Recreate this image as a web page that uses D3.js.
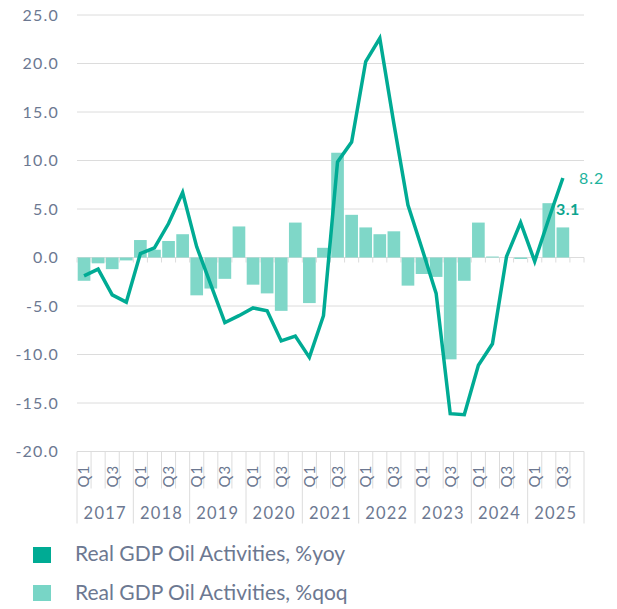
<!DOCTYPE html>
<html>
<head>
<meta charset="utf-8">
<script src="https://cdn.jsdelivr.net/npm/d3@7"></script>
<style>
  body { margin: 0; background: #fff; }
  text { font-family: Lato, "Open Sans", sans-serif; fill: #6c7891; }
  .grid line { stroke: #dcdcdc; stroke-width: 1; }
  .axis-label { font-size: 16px; letter-spacing: 1.2px; }
  .year-label { font-size: 16.5px; }
  .q-label { font-size: 15px; letter-spacing: 1px; }
  .legend-text { font-size: 21px; }
</style>
</head>
<body>
<div id="chart"></div>
<script>
var margin = {top: 15, right: 33, bottom: 157.5, left: 77};
var width = 617 - margin.left - margin.right;
var height = 609 - margin.top - margin.bottom;

// categories
var years = ["2017", "2018", "2019", "2020", "2021", "2022", "2023", "2024", "2025"];
var quarters = ["Q1", "Q2", "Q3", "Q4"];
var shownQuarters = ["Q1", "Q3"];

// series values, 2017 Q1 .. 2025 Q3
var yoy = [-1.9, -1.2, -3.85, -4.6,
           0.4, 1.0, 3.5, 6.7,
           1.1, -2.8, -6.7, -6.0,
           -5.2, -5.5, -8.6, -8.1,
           -10.3, -6.0, 9.85, 11.9,
           20.2, 22.6, 13.8, 5.4,
           0.9, -3.7, -16.1, -16.2,
           -11.1, -8.9, 0.1, 3.6,
           -0.4, 4.0, 8.2];
var qoq = [-2.4, -0.6, -1.2, -0.3,
           1.8, 0.8, 1.7, 2.4,
           -3.9, -3.2, -2.2, 3.2,
           -2.8, -3.7, -5.5, 3.6,
           -4.7, 1.0, 10.8, 4.4,
           3.1, 2.4, 2.7, -2.9,
           -1.7, -2.0, -10.5, -2.4,
           3.6, 0.1, 0.0, -0.15,
           0.0, 5.6, 3.1];

// tick labels
var yTicks = [-20, -15, -10, -5, 0, 5, 10, 15, 20, 25];

var seriesNames = ["Real GDP Oil Activities, %yoy", "Real GDP Oil Activities, %qoq"];
var lineColour = "#00ab94";
var barColour = "#7fd7c8";

var categories = [];
years.forEach(function(y) {
  quarters.forEach(function(q) {
    categories.push(y + " " + q);
  });
});

var data = yoy.map(function(d, i) {
  return {cat: categories[i], yoy: d, qoq: qoq[i]};
});

var svg = d3.select("#chart")
            .append("svg")
              .attr("width", 617)
              .attr("height", 609);

var chart = svg.append("g")
                .attr("transform", "translate(" + margin.left + "," + margin.top + ")");

// scales
var xScale = d3.scaleBand()
                .domain(categories)
                .range([0, width])
                .paddingInner(0.1)
                .paddingOuter(0.05);

var yScale = d3.scaleLinear()
                .domain([-20, 25])
                .range([height, 0]);

var step = xScale.step();
function boundary(i) {
  return i * step;
}

// gridlines
chart.append("g")
      .attr("class", "grid")
     .selectAll("line")
      .data(yTicks)
      .enter()
     .append("line")
      .attr("x1", 0)
      .attr("x2", width)
      .attr("y1", function(d) { return yScale(d); })
      .attr("y2", function(d) { return yScale(d); });

// y axis labels
var yAxis = d3.axisLeft(yScale)
              .tickValues(yTicks)
              .tickSize(0)
              .tickPadding(18)
              .tickFormat(function(d) { return d.toFixed(1); });

chart.append("g")
      .attr("class", "axis y-axis")
      .call(yAxis)
      .call(function(g) { g.select(".domain").remove(); })
     .selectAll("text")
      .attr("class", "axis-label")
      .attr("fill", null)
      .attr("font-family", null)
      .attr("font-size", null);

// small ticks on zero line
var boundaries = d3.range(categories.length + 1);

chart.append("g")
      .attr("class", "grid zero-ticks")
     .selectAll("line")
      .data(boundaries)
      .enter()
     .append("line")
      .attr("x1", boundary)
      .attr("x2", boundary)
      .attr("y1", yScale(0))
      .attr("y2", yScale(0) + 5);

// category axis below the chart
var xAxisG = chart.append("g")
                   .attr("class", "grid x-axis")
                   .attr("transform", "translate(0," + height + ")");

xAxisG.selectAll("line")
       .data(boundaries)
       .enter()
      .append("line")
       .attr("x1", boundary)
       .attr("x2", boundary)
       .attr("y1", 0)
       .attr("y2", function(d) {
         return (d % quarters.length === 0) ? 72 : 37;
       });

xAxisG.selectAll(".q-label")
       .data(categories.filter(function(c) {
         return shownQuarters.indexOf(c.split(" ")[1]) >= 0;
       }))
       .enter()
      .append("text")
       .attr("class", "q-label")
       .attr("transform", function(d) {
         return "translate(" + (xScale(d) + xScale.bandwidth() / 2) + ",36) rotate(-90)";
       })
       .attr("dy", "0.36em")
       .text(function(d) { return d.split(" ")[1]; });

xAxisG.selectAll(".year-label")
       .data(years)
       .enter()
      .append("text")
       .attr("class", "axis-label year-label")
       .attr("text-anchor", "middle")
       .attr("x", function(d, i) {
         return boundary(i * quarters.length) + step * quarters.length / 2;
       })
       .attr("y", 67)
       .text(function(d) { return d; });

// bars
chart.selectAll(".bar")
      .data(data)
      .enter()
     .append("rect")
      .attr("class", "bar")
      .attr("fill", barColour)
      .attr("x", function(d) { return xScale(d.cat); })
      .attr("width", xScale.bandwidth())
      .attr("y", function(d) { return yScale(Math.max(0, d.qoq)); })
      .attr("height", function(d) { return Math.abs(yScale(d.qoq) - yScale(0)); });

// line
var line = d3.line()
              .x(function(d) { return xScale(d.cat) + xScale.bandwidth() / 2; })
              .y(function(d) { return yScale(d.yoy); });

chart.append("path")
      .datum(data)
      .attr("fill", "none")
      .attr("stroke", lineColour)
      .attr("stroke-width", 3.5)
      .attr("stroke-linejoin", "miter")
      .attr("d", line);

// end labels
var last = data[data.length - 1];
var lastX = xScale(last.cat) + xScale.bandwidth() / 2;

chart.append("text")
      .attr("x", lastX + 16)
      .attr("y", yScale(last.yoy) + 6)
      .style("fill", "#1db39d")
      .style("font-size", "16px")
      .style("letter-spacing", "1px")
      .text(last.yoy.toFixed(1));

chart.append("text")
      .attr("x", lastX - 7)
      .attr("y", yScale(last.qoq) - 12)
      .style("fill", "#0da48e")
      .style("font-size", "16px")
      .style("font-weight", "bold")
      .style("letter-spacing", "0.5px")
      .text(last.qoq.toFixed(1));

// legend
var legend = svg.append("g")
                 .attr("class", "legend");

var legendItems = legend.selectAll("g")
                         .data(seriesNames)
                         .enter()
                        .append("g")
                         .attr("transform", function(d, i) {
                           return "translate(33," + (547 + 38 * i) + ")";
                         });

legendItems.append("rect")
            .attr("width", 18)
            .attr("height", 16)
            .attr("fill", function(d, i) { return i === 0 ? lineColour : "#78d5c6"; });

legendItems.append("text")
            .attr("class", "legend-text")
            .attr("x", 42)
            .attr("y", function(d, i) { return 13.5 + i; })
            .text(function(d) { return d; });
</script>
</body>
</html>
